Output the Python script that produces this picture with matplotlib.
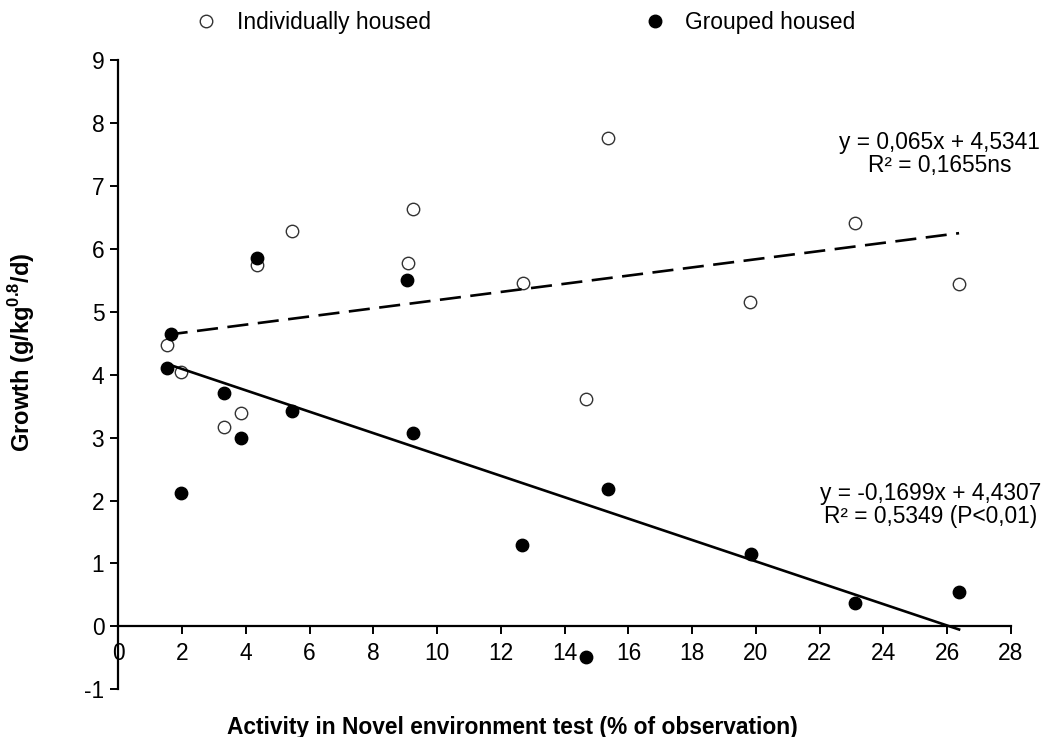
import numpy as np
import matplotlib
matplotlib.use("Agg")
import matplotlib.pyplot as plt
from matplotlib.lines import Line2D

plt.rcParams['font.family'] = ['Liberation Sans', 'DejaVu Sans']
plt.rcParams['mathtext.fontset'] = 'custom'
plt.rcParams['mathtext.rm'] = 'Liberation Sans'
plt.rcParams['mathtext.bf'] = 'Liberation Sans:bold'
plt.rcParams['axes.unicode_minus'] = False

# Activity (% of observation) vs growth
activity_ind = [1.52, 1.96, 3.33, 3.86, 4.36, 5.44, 9.09, 9.26, 12.68, 14.66, 15.35, 19.81, 23.10, 26.37]
growth_ind = [4.47, 4.05, 3.17, 3.39, 5.75, 6.29, 5.78, 6.63, 5.46, 3.62, 7.76, 5.16, 6.41, 5.44]

activity_grp = [1.52, 1.65, 1.96, 3.33, 3.86, 4.36, 5.44, 9.07, 9.26, 12.67, 14.66, 15.35, 19.83, 23.10, 26.37]
growth_grp = [4.11, 4.64, 2.12, 3.71, 3.00, 5.86, 3.42, 5.51, 3.07, 1.30, -0.48, 2.18, 1.15, 0.37, 0.55]

# trendline coefficients as printed on the chart (slope, intercept)
fit_ind = (0.065, 4.5341)
fit_grp = (-0.1699, 4.4307)

label_ind = "Individually housed"
label_grp = "Grouped housed"
eq_ind = "y = 0,065x + 4,5341\nR\u00b2 = 0,1655ns"
eq_grp = "y = -0,1699x + 4,4307\nR\u00b2 = 0,5349 (P<0,01)"

x_ticks = list(range(0, 29, 2))
y_ticks = list(range(-1, 10))

fs = 16.4

fig = plt.figure(figsize=(10.45, 7.37), dpi=100)
ax = fig.add_axes([0.1131, 0.0647, 0.8544, 0.8539])

# scatter points
ax.scatter(activity_ind, growth_ind, s=80, facecolor='white', edgecolor='#333333',
           linewidth=1.0, zorder=3, clip_on=False)
ax.scatter(activity_grp, growth_grp, s=80, facecolor='black', edgecolor='black',
           linewidth=1.0, zorder=4, clip_on=False)

# linear trendlines over the data range
x_lo = min(activity_ind + activity_grp)
x_hi = max(activity_ind + activity_grp)
xs = np.array([x_lo, x_hi])
ax.plot(xs, fit_ind[0] * xs + fit_ind[1], color='black', lw=1.9,
        dashes=(8, 3.6), zorder=5)
ax.plot(xs, fit_grp[0] * xs + fit_grp[1], color='black', lw=1.9, zorder=5,
        clip_on=False)

# equations
ax.text(25.76, 7.51, eq_ind, ha='center', va='center', multialignment='center',
        fontsize=fs, linespacing=1.0)
ax.text(25.47, 1.93, eq_grp, ha='center', va='center', multialignment='center',
        fontsize=fs, linespacing=1.0)

# axes: x axis crosses at y = 0
ax.set_xlim(0, 28)
ax.set_ylim(-1, 9)
ax.spines['top'].set_visible(False)
ax.spines['right'].set_visible(False)
ax.spines['bottom'].set_position(('data', 0))
ax.spines['left'].set_linewidth(1.6)
ax.spines['bottom'].set_linewidth(1.6)
ax.set_xticks(x_ticks)
ax.set_yticks(y_ticks)
ax.tick_params(axis='both', direction='out', length=6, width=1.4, labelsize=fs)
ax.tick_params(axis='x', pad=5)
ax.tick_params(axis='y', pad=4)

ax.set_xlabel("Activity in Novel environment test (% of observation)",
              fontsize=fs, fontweight='bold')
ax.xaxis.set_label_coords(0.441, -0.060)
ax.xaxis.label.set_verticalalignment('center')
ax.set_ylabel(r"Growth (g/kg$^{\mathbf{0.8}}$/d)", fontsize=fs + 0.6, fontweight='bold')
ax.yaxis.set_label_coords(-0.1078, 0.536)
ax.yaxis.label.set_verticalalignment('center')

handles = [
    Line2D([], [], ls='none', marker='o', ms=9, mfc='white', mec='#333333', mew=1.0),
    Line2D([], [], ls='none', marker='o', ms=9, mfc='black', mec='black', mew=1.0),
]
fig.legend(handles, [label_ind, label_grp], loc='center', bbox_to_anchor=(0.5027, 0.969),
           ncol=2, frameon=False, fontsize=fs, handlelength=1.0, handletextpad=0.86,
           columnspacing=9.3, borderpad=0, borderaxespad=0)

fig.savefig("out.png", dpi=100)
